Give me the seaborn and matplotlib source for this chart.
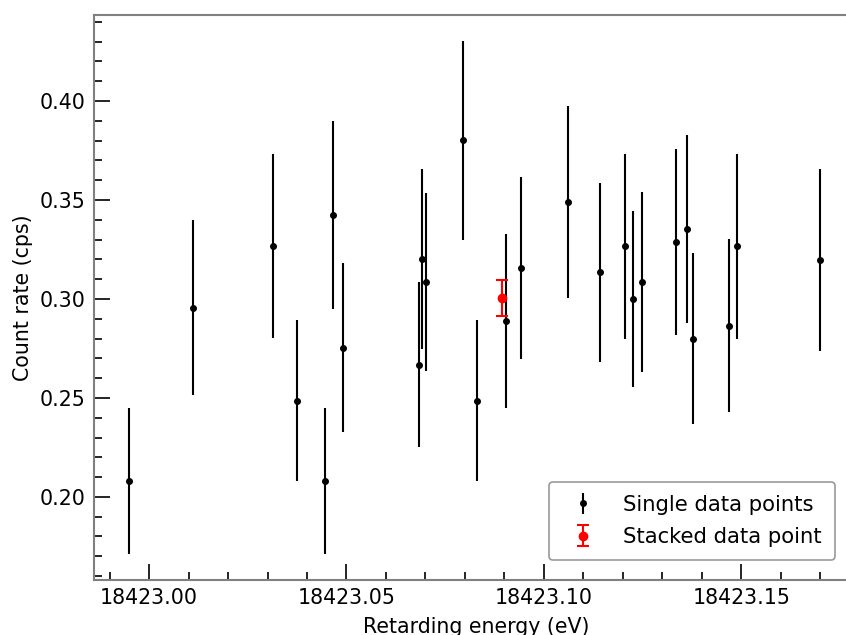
import numpy as np
import seaborn as sns
import matplotlib.pyplot as plt
from matplotlib.ticker import MultipleLocator

# single data points (retarding energy in eV, count rate in cps, 1 sigma)
energy = [18422.9949, 18423.0111, 18423.0314, 18423.0375, 18423.0446,
          18423.0466, 18423.0491, 18423.0684, 18423.0691, 18423.0701,
          18423.0795, 18423.0830, 18423.0904, 18423.0942, 18423.1061,
          18423.1142, 18423.1206, 18423.1225, 18423.1249, 18423.1334,
          18423.1364, 18423.1378, 18423.1468, 18423.1489, 18423.1701]
rate = [0.208, 0.2955, 0.3268, 0.2485, 0.208,
        0.3424, 0.2753, 0.2667, 0.3202, 0.3086,
        0.3803, 0.2485, 0.2889, 0.3157, 0.349,
        0.3136, 0.3266, 0.300, 0.3087, 0.3288,
        0.3355, 0.280, 0.2865, 0.3266, 0.3199]
rate_err = [0.0371, 0.0442, 0.0467, 0.0407, 0.0371,
            0.0477, 0.0427, 0.0417, 0.0457, 0.0452,
            0.0503, 0.0407, 0.0439, 0.046, 0.0485,
            0.0452, 0.0466, 0.0445, 0.0454, 0.0469,
            0.0474, 0.043, 0.0436, 0.0466, 0.046]

# stacked data point
stack_energy = [18423.0894]
stack_rate = [0.3005]
stack_err = [0.0091]

sns.set_theme(style='white')
plt.rcParams['font.family'] = ['DejaVu Sans']
plt.rcParams.update({'text.color': 'black', 'axes.labelcolor': 'black',
                     'xtick.color': 'black', 'ytick.color': 'black'})

fig = plt.figure(figsize=(8.46, 6.35), dpi=100)
ax = fig.add_axes([0.111, 0.0866, 0.905, 0.8895])

ax.errorbar(energy, rate, yerr=rate_err, fmt='o', color='black', ms=4,
            elinewidth=1.5, capsize=0, label='Single data points')
ax.errorbar(stack_energy, stack_rate, yerr=stack_err, fmt='o', color='red', ms=6,
            elinewidth=1.5, capsize=4.5, capthick=1.5, label='Stacked data point')

ax.set_xlim(18422.986, 18423.18)
ax.set_ylim(0.158, 0.4434)
ax.ticklabel_format(useOffset=False)
ax.xaxis.set_major_locator(MultipleLocator(0.05))
ax.xaxis.set_minor_locator(MultipleLocator(0.01))
ax.yaxis.set_major_locator(MultipleLocator(0.05))
ax.yaxis.set_minor_locator(MultipleLocator(0.01))
ax.xaxis.set_major_formatter(plt.FormatStrFormatter('%.2f'))
ax.yaxis.set_major_formatter(plt.FormatStrFormatter('%.2f'))

ax.tick_params(which='major', direction='in', length=11.5, width=1.2, color='black',
               labelsize=14.8, left=True, bottom=True, pad=6)
ax.tick_params(which='minor', direction='in', length=5.5, width=1.2, color='black',
               left=True, bottom=True)
for side in ['left', 'bottom', 'top', 'right']:
    ax.spines[side].set_color('#808080')
    ax.spines[side].set_linewidth(1.5)

ax.set_xlabel('Retarding energy (eV)', fontsize=14.8, labelpad=6)
ax.set_ylabel('Count rate (cps)', fontsize=14.8, labelpad=5)

leg = ax.legend(loc='lower right', bbox_to_anchor=(0.982, 0.016), fontsize=15.2,
                frameon=True, fancybox=True, handletextpad=0.9,
                borderpad=0.62, labelspacing=0.6)
leg.get_frame().set_edgecolor('#808080')
leg.get_frame().set_linewidth(1.2)

fig.savefig('out.png', dpi=100)
